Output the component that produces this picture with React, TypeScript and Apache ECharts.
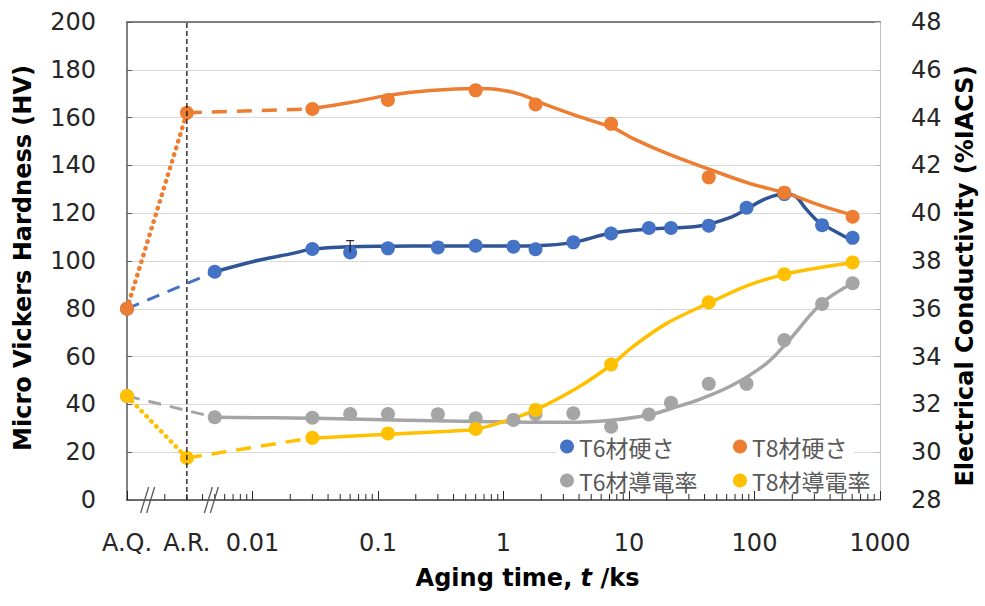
import React, { useEffect, useRef } from 'react';
import * as echarts from 'echarts';

// ---------- axis settings / labels ----------
const X_MIN = 0.001;
const X_MAX = 1000;
const Y_LEFT_MIN = 0;
const Y_LEFT_MAX = 200;
const xTickValues = [0.001, 0.01, 0.1, 1, 10, 100, 1000];
const xTickLabels = ['A.Q.', '0.01', '0.1', '1', '10', '100', '1000'];
const AR_T = 0.003;
const arLabel = 'A.R.';
const breakMarkT = [0.00146, 0.0047];
const minorTickMantissa = [2, 3, 4, 5, 6, 7, 8, 9];
const minorTickDecades = [0.001, 0.01, 0.1, 1, 10, 100];

const seriesNames = ['T6材硬さ', 'T8材硬さ', 'T6材導電率', 'T8材導電率'];

// ---------- as-quenched / as-rolled ----------
const AQ_T = 0.001;
const aqHardness = 80;
const aqConductivity = 32.35;
const t8ARHardness = 162;
const t8ARConductivity = 29.76;

// ---------- T6 measured ----------
const t6Time = [0.005, 0.03, 0.06, 0.12, 0.3, 0.6, 1.2, 1.8, 3.6, 7.2, 14.4, 21.6, 43.2, 86.4, 172.8, 345.6, 604.8];
const t6Hardness = [95.5, 105.0, 103.6, 105.3, 105.7, 106.4, 106.0, 104.9, 107.8, 111.5, 113.8, 113.8, 114.8, 122.3, 128.0, 115.0, 109.7];
const t6Conductivity = [31.46, 31.44, 31.6, 31.6, 31.59, 31.42, 31.35, 31.6, 31.63, 31.07, 31.58, 32.07, 32.86, 32.86, 34.69, 36.2, 37.07];
const t6ErrorTime = 0.06;
const t6ErrorHigh = 108.5;

// ---------- T8 measured ----------
const t8Time = [0.03, 0.12, 0.6, 1.8, 7.2, 43.2, 172.8, 604.8];
const t8Hardness = [163.6, 167.4, 171.4, 165.5, 157.4, 135.0, 128.6, 118.5];
const t8Conductivity = [30.6, 30.78, 30.97, 31.77, 33.67, 36.27, 37.45, 37.94];

// ---------- fitted curves ----------
const curveT6HardT = [0.005, 0.0114, 0.021, 0.03, 0.06, 0.12, 0.3, 0.6, 1.2, 1.8, 3.6, 7.2, 14.6, 36.5, 66, 88, 125, 175, 213, 255, 323, 409, 605];
const curveT6HardV = [95.5, 100.4, 103.2, 105.0, 106.0, 106.2, 106.3, 106.3, 106.3, 106.4, 107.8, 111.7, 113.4, 114.6, 118.5, 122.0, 126.2, 128.0, 127.0, 122.0, 116.4, 113.3, 108.4];

const curveT8HardT = [0.03, 0.06, 0.12, 0.26, 0.6, 0.9, 1.4, 2.2, 4.0, 7.4, 10.7, 20, 44, 91, 180, 330, 605];
const curveT8HardV = [163.8, 166.3, 169.3, 171.3, 172.2, 171.8, 169.5, 165.3, 160.4, 155.8, 151.3, 145.0, 138.3, 132.5, 128.3, 123.4, 119.2];

const curveT6CondT = [0.005, 0.03, 0.13, 0.6, 2.2, 5.8, 14.6, 22, 36.5, 67, 125, 180, 343, 605];
const curveT6CondV = [31.46, 31.42, 31.35, 31.28, 31.25, 31.3, 31.56, 31.84, 32.21, 32.81, 33.72, 34.56, 36.23, 37.07];

const curveT8CondT = [0.03, 0.12, 0.37, 0.6, 1.0, 1.8, 4.0, 7.3, 10.7, 20, 44, 91, 180, 310, 605];
const curveT8CondV = [30.58, 30.75, 30.88, 30.96, 31.28, 31.77, 32.74, 33.67, 34.41, 35.39, 36.26, 37.0, 37.46, 37.7, 37.93];

// ---------- style ----------
const BLUE = '#4472C4';
const BLUE_DARK = '#2F5597';
const ORANGE = '#ED7D31';
const GRAY = '#A5A5A5';
const YELLOW = '#FFC000';
const FONT = '"DejaVu Sans", sans-serif';
const FONT_LEGEND = '"Noto Sans CJK JP", sans-serif';
const TEXT = '#262626';
const TICK_FONT = 24;
const TITLE_FONT = 24;

const zip = (t: number[], v: number[]) => t.map((x, i) => [x, v[i]]);

export default function App() {
  const ref = useRef<HTMLDivElement>(null);

  useEffect(() => {
    if (!ref.current) return;
    const chart = echarts.init(ref.current, undefined, { renderer: 'svg' });

    const curve = (name: string, t: number[], v: number[], yAxisIndex: number, color: string) => ({
      type: 'line', name, data: zip(t, v), yAxisIndex, xAxisIndex: 0,
      symbol: 'none', showSymbol: false, smooth: 0.35, silent: true, z: 2,
      lineStyle: { color, width: 3.5 },
    });
    const connector = (name: string, pts: number[][], yAxisIndex: number, color: string, dash: number[], cap: string, width: number) => ({
      type: 'line', name, data: pts, yAxisIndex, xAxisIndex: 0,
      symbol: 'none', showSymbol: false, silent: true, z: 2,
      lineStyle: { color, width, type: dash, cap },
    });
    const scatter = (name: string, pts: number[][], yAxisIndex: number, color: string) => ({
      type: 'scatter', name, data: pts, yAxisIndex, xAxisIndex: 0,
      symbol: 'circle', symbolSize: 14, z: 3, itemStyle: { color, opacity: 1 },
    });

    const minorTicks: number[] = [];
    minorTickDecades.forEach((d) => minorTickMantissa.forEach((m) => minorTicks.push(m * d)));

    const legendCommon = {
      orient: 'vertical', icon: 'circle', itemWidth: 14, itemHeight: 14, itemGap: 11,
      textStyle: { fontSize: 23, fontFamily: FONT_LEGEND, color: '#595959' },
      selectedMode: false,
    };

    const option: any = {
      animation: false,
      backgroundColor: '#fff',
      grid: { left: 127, right: 103, top: 22, bottom: 106, containLabel: false },
      legend: [
        { ...legendCommon, data: [seriesNames[0], seriesNames[2]], left: 555, top: 430 },
        { ...legendCommon, data: [seriesNames[1], seriesNames[3]], left: 728, top: 430 },
      ],
      graphic: [
        { type: 'rect', shape: { x: 557, y: 433, width: 297, height: 30 }, style: { fill: '#fff' }, z: 1, silent: true },
      ],
      xAxis: [
        {
          type: 'log', logBase: 10, min: X_MIN, max: X_MAX, position: 'bottom',
          axisLine: { show: true, lineStyle: { color: '#404040', width: 1.5 } },
          axisTick: { show: true, inside: true, length: 9, lineStyle: { color: TEXT } },
          minorTick: { show: false },
          splitLine: { show: false },
          axisLabel: {
            margin: 31, fontSize: TICK_FONT, fontFamily: FONT, color: TEXT, showMinLabel: true, showMaxLabel: true,
            formatter: (v: number) => {
              const i = xTickValues.findIndex((x) => Math.abs(Math.log10(x) - Math.log10(v)) < 1e-6);
              return i >= 0 ? xTickLabels[i] : '';
            },
          },
          name: '{b|Aging time, }{i|t}{b| /ks}',
          nameLocation: 'middle', nameGap: 66,
          nameTextStyle: {
            padding: [0, 0, 0, 48],
            rich: {
              b: { fontSize: TITLE_FONT, fontWeight: 'bold', fontFamily: FONT, color: '#000' },
              i: { fontSize: TITLE_FONT, fontWeight: 'bold', fontStyle: 'italic', fontFamily: FONT, color: '#000' },
            },
          },
        },
        {
          type: 'log', logBase: 10, min: X_MIN, max: X_MAX, position: 'top',
          axisLine: { show: true, lineStyle: { color: '#595959', width: 1.5 } },
          axisTick: { show: false }, axisLabel: { show: false }, splitLine: { show: false },
        },
      ],
      yAxis: [
        {
          type: 'value', min: Y_LEFT_MIN, max: Y_LEFT_MAX, interval: 20, position: 'left',
          axisLine: { show: true, lineStyle: { color: '#595959', width: 1.5 } },
          axisTick: { show: true, inside: true, length: 5, lineStyle: { color: '#595959' } },
          splitLine: { show: true, lineStyle: { color: '#d9d9d9', width: 1 } },
          axisLabel: { margin: 31, fontSize: TICK_FONT, fontFamily: FONT, color: TEXT },
          name: 'Micro Vickers Hardness (HV)', nameLocation: 'middle', nameRotate: 90, nameGap: 92,
          nameTextStyle: { fontSize: TITLE_FONT, fontWeight: 'bold', fontFamily: FONT, color: '#000', padding: [0, 0, 0, 6] },
        },
        {
          type: 'value', min: 28, max: 48, interval: 2, position: 'right',
          axisLine: { show: true, lineStyle: { color: '#bfbfbf', width: 1 } },
          axisTick: { show: true, inside: true, length: 5, lineStyle: { color: '#bfbfbf' } },
          splitLine: { show: false },
          axisLabel: { margin: 31, fontSize: TICK_FONT, fontFamily: FONT, color: TEXT },
          name: 'Electrical Conductivity (%IACS)', nameLocation: 'middle', nameRotate: 90, nameGap: 73,
          nameTextStyle: { fontSize: TITLE_FONT, fontWeight: 'bold', fontFamily: FONT, color: '#000', padding: [0, 30, 0, 0] },
        },
      ],
      series: [
        // fitted curves
        curve('c6h', curveT6HardT, curveT6HardV, 0, BLUE_DARK),
        curve('c8h', curveT8HardT, curveT8HardV, 0, ORANGE),
        curve('c6c', curveT6CondT, curveT6CondV, 1, GRAY),
        curve('c8c', curveT8CondT, curveT8CondV, 1, YELLOW),
        // connectors
        connector('d6h', [[AQ_T, aqHardness], [t6Time[0], t6Hardness[0]]], 0, BLUE, [13, 9], 'butt', 3),
        connector('d6c', [[AQ_T, aqConductivity], [t6Time[0], t6Conductivity[0]]], 1, GRAY, [13, 9], 'butt', 3),
        connector('d8h', [[AR_T, t8ARHardness], [t8Time[0], t8Hardness[0]]], 0, ORANGE, [15, 10], 'butt', 3.5),
        connector('d8c', [[AR_T, t8ARConductivity], [t8Time[0], t8Conductivity[0]]], 1, YELLOW, [15, 10], 'butt', 3.5),
        connector('p8h', [[AQ_T, aqHardness], [AR_T, t8ARHardness]], 0, ORANGE, [0.5, 6.5], 'round', 4.5),
        connector('p8c', [[AQ_T, aqConductivity], [AR_T, t8ARConductivity]], 1, YELLOW, [0.5, 6.5], 'round', 4.5),
        // error bar
        {
          type: 'custom', name: 'err', xAxisIndex: 0, yAxisIndex: 0, silent: true, z: 4,
          data: [[t6ErrorTime, t6Hardness[t6Time.indexOf(t6ErrorTime)], t6ErrorHigh]],
          renderItem: (params: any, api: any) => {
            const lo = api.coord([api.value(0), api.value(1)]);
            const hi = api.coord([api.value(0), api.value(2)]);
            return {
              type: 'group',
              children: [
                { type: 'line', shape: { x1: lo[0], y1: lo[1], x2: hi[0], y2: hi[1] }, style: { stroke: '#000', lineWidth: 1 } },
                { type: 'line', shape: { x1: hi[0] - 4, y1: hi[1], x2: hi[0] + 4, y2: hi[1] }, style: { stroke: '#000', lineWidth: 1 } },
              ],
            };
          },
        },
        // measured points
        scatter(seriesNames[0], [[AQ_T, aqHardness], ...zip(t6Time, t6Hardness)], 0, BLUE),
        scatter(seriesNames[1], [[AQ_T, aqHardness], [AR_T, t8ARHardness], ...zip(t8Time, t8Hardness)], 0, ORANGE),
        scatter(seriesNames[2], [[AQ_T, aqConductivity], ...zip(t6Time, t6Conductivity)], 1, GRAY),
        scatter(seriesNames[3], [[AQ_T, aqConductivity], [AR_T, t8ARConductivity], ...zip(t8Time, t8Conductivity)], 1, YELLOW),
        // A.R. vertical dashed guide
        {
          type: 'custom', name: 'arGuide', xAxisIndex: 0, yAxisIndex: 0, silent: true, z: 4, clip: false,
          data: [[AR_T, Y_LEFT_MIN, Y_LEFT_MAX]],
          renderItem: (params: any, api: any) => {
            const a = api.coord([api.value(0), api.value(1)]);
            const b = api.coord([api.value(0), api.value(2)]);
            return {
              type: 'line', shape: { x1: a[0], y1: a[1], x2: b[0], y2: b[1] },
              style: { stroke: '#000', lineWidth: 1.2, lineDash: [5, 3] },
            };
          },
        },
        // minor ticks on the log axis
        {
          type: 'custom', name: 'minorTicks', xAxisIndex: 0, yAxisIndex: 0, silent: true, z: 5, clip: false,
          data: minorTicks.map((t) => [t, Y_LEFT_MIN]),
          renderItem: (params: any, api: any) => {
            const p = api.coord([api.value(0), api.value(1)]);
            return { type: 'line', shape: { x1: p[0], y1: p[1], x2: p[0], y2: p[1] - 6 }, style: { stroke: TEXT, lineWidth: 1 } };
          },
        },
        // A.R. label
        {
          type: 'custom', name: 'arLabel', xAxisIndex: 0, yAxisIndex: 0, silent: true, z: 5, clip: false,
          data: [[AR_T, Y_LEFT_MIN]],
          renderItem: (params: any, api: any) => {
            const p = api.coord([api.value(0), api.value(1)]);
            return {
              type: 'text', x: p[0], y: p[1] + 31,
              style: { text: arLabel, fontSize: TICK_FONT, fontFamily: FONT, fill: TEXT, align: 'center', verticalAlign: 'top' },
            };
          },
        },
        // axis break marks
        {
          type: 'custom', name: 'breaks', xAxisIndex: 0, yAxisIndex: 0, silent: true, z: 5, clip: false,
          data: breakMarkT.map((t) => [t, Y_LEFT_MIN]),
          renderItem: (params: any, api: any) => {
            const p = api.coord([api.value(0), api.value(1)]);
            const mk = (dx: number) => ({
              type: 'line',
              shape: { x1: p[0] + dx - 4, y1: p[1] + 13, x2: p[0] + dx + 4, y2: p[1] - 13 },
              style: { stroke: '#595959', lineWidth: 1.3 },
            });
            return { type: 'group', children: [mk(-3), mk(3)] };
          },
        },
      ],
    };

    chart.setOption(option);
    return () => chart.dispose();
  }, []);

  return <div ref={ref} style={{ position: 'fixed', left: 0, top: 0, width: 985, height: 606 }} />;
}
